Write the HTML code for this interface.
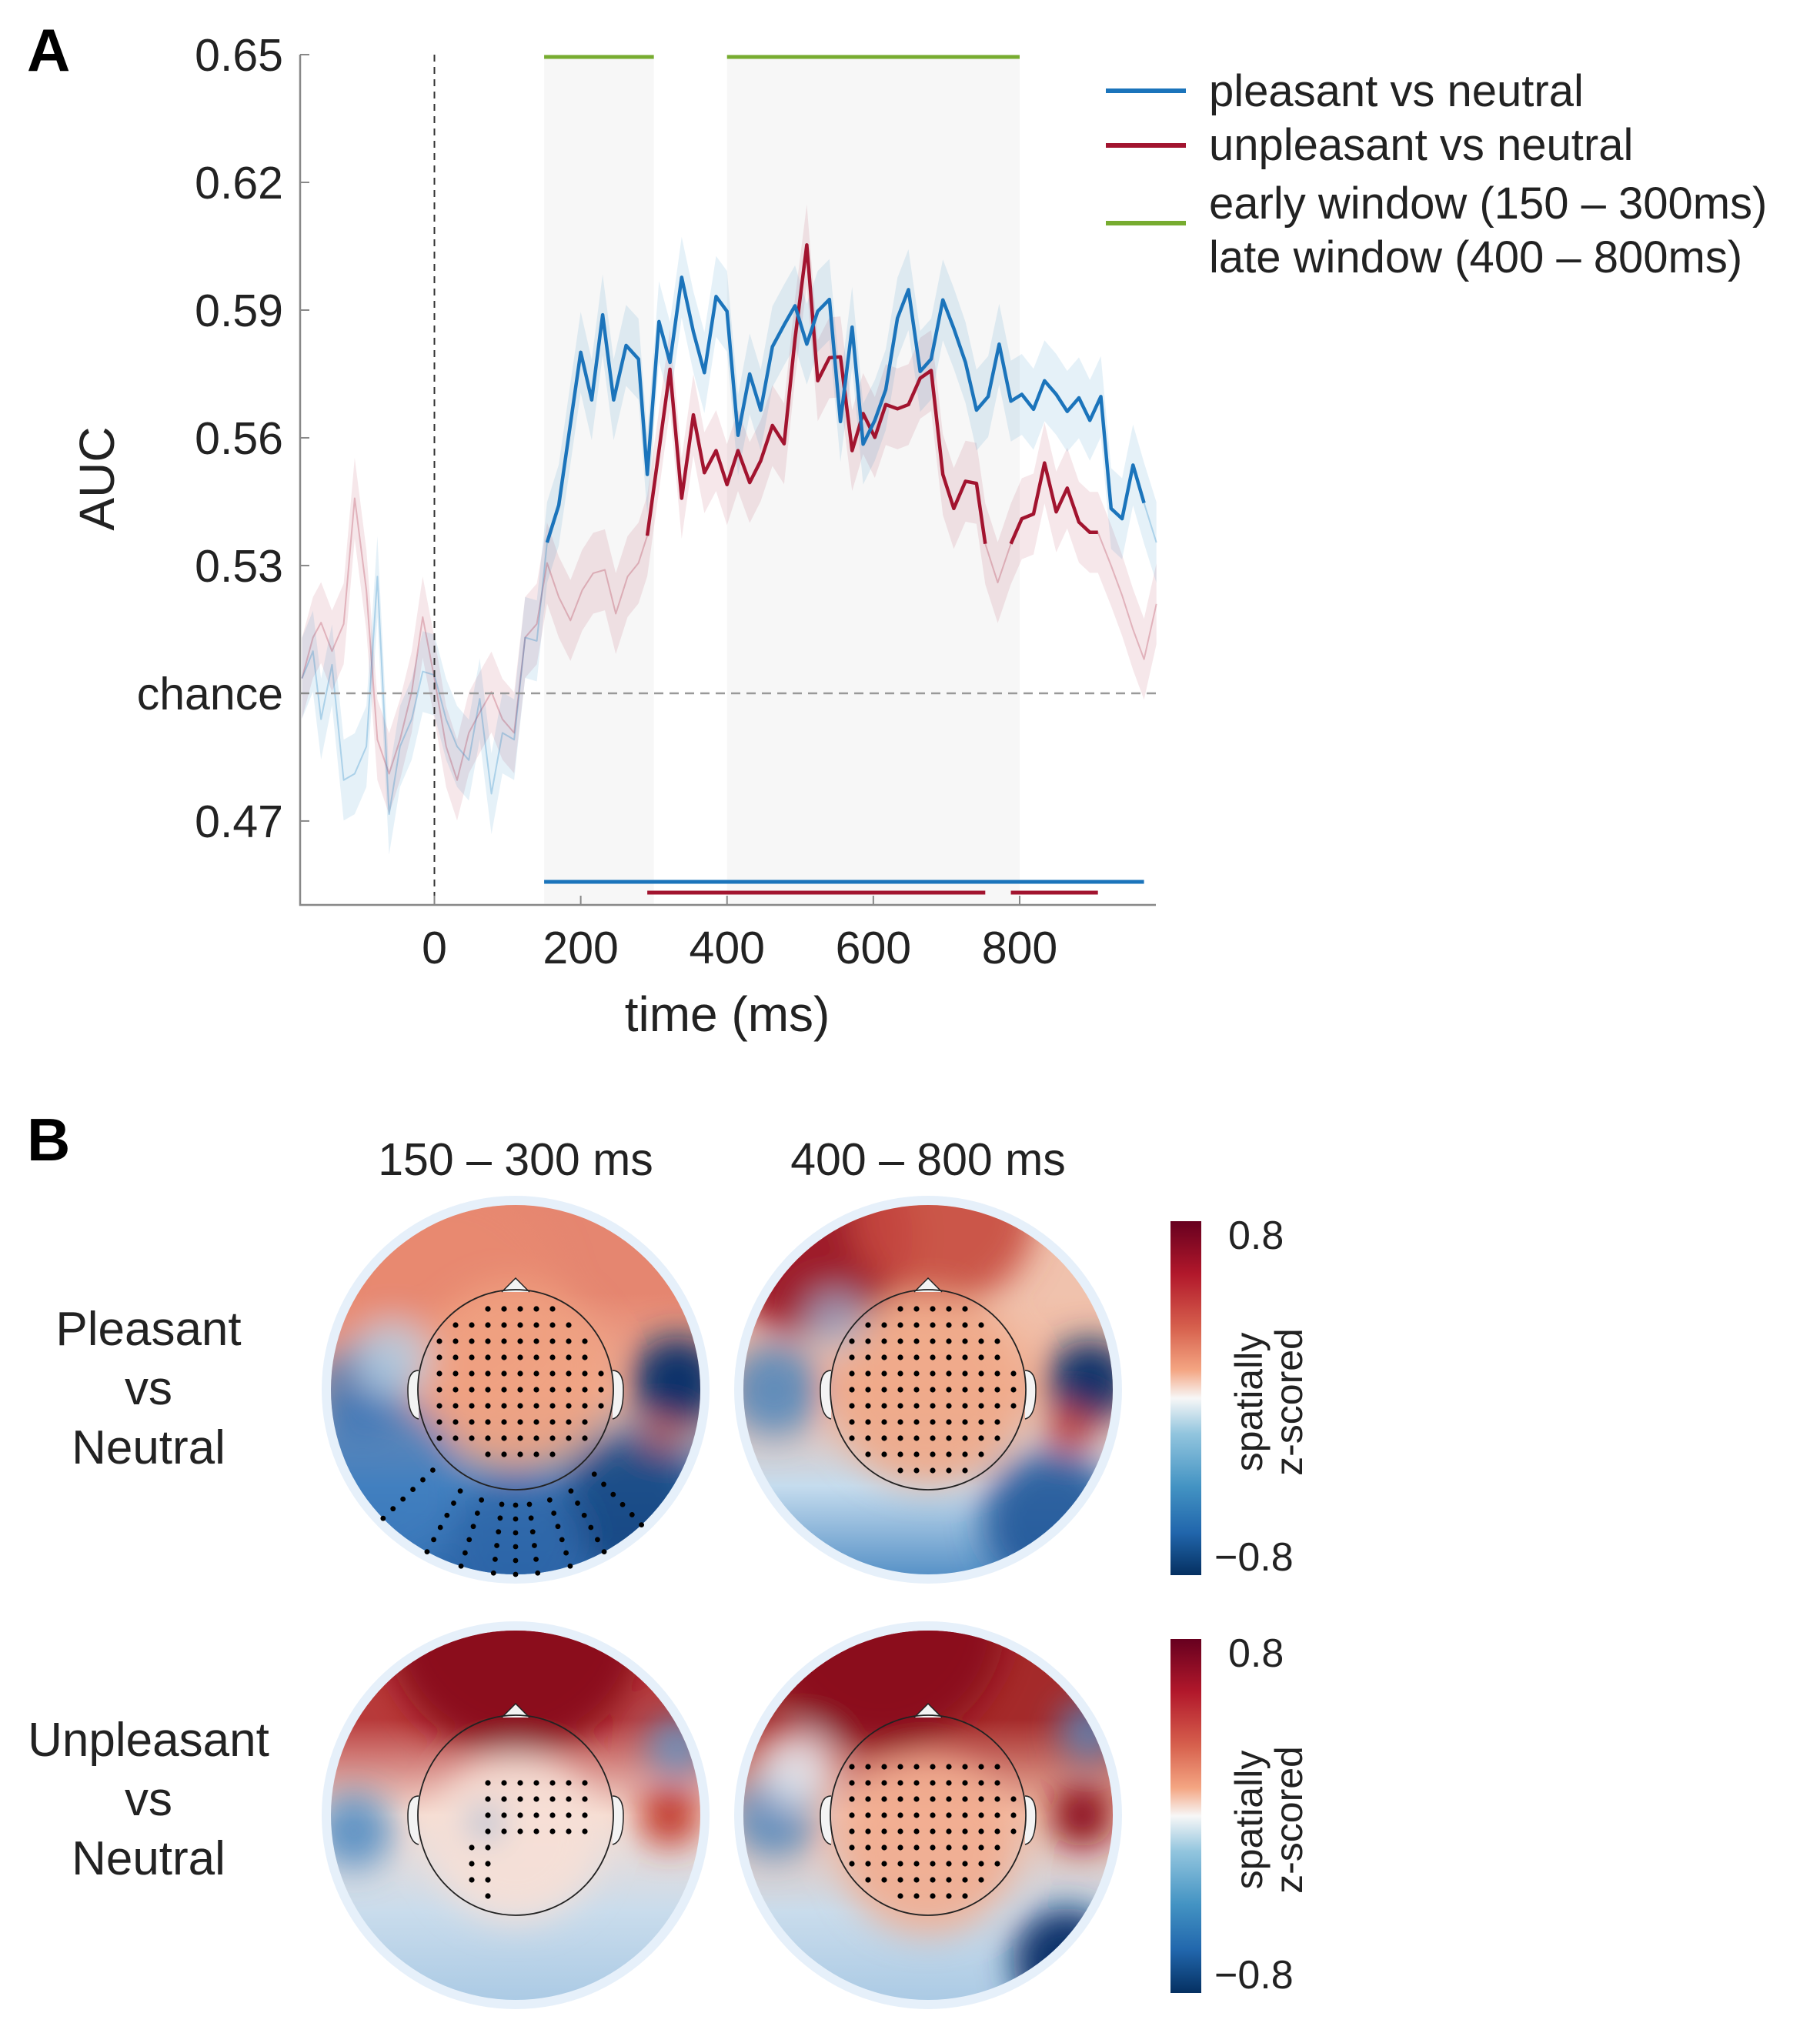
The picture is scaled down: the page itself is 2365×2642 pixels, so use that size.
<!DOCTYPE html>
<html><head><meta charset="utf-8"><style>
html,body{margin:0;padding:0;background:#fff;}
svg{display:block;font-family:"Liberation Sans",Arial,sans-serif;}
</style></head><body>
<svg id="fig" width="2365" height="2642" viewBox="0 0 2365 2642" xmlns="http://www.w3.org/2000/svg">
<defs>
<filter id="blur" x="-50%" y="-50%" width="200%" height="200%"><feGaussianBlur stdDeviation="22"/></filter>
<linearGradient id="cbar" x1="0" y1="0" x2="0" y2="1">
<stop offset="0" stop-color="#67001f"/><stop offset="0.15" stop-color="#b2182b"/><stop offset="0.3" stop-color="#d6604d"/><stop offset="0.42" stop-color="#f4a582"/><stop offset="0.5" stop-color="#f7f7f7"/><stop offset="0.6" stop-color="#92c5de"/><stop offset="0.75" stop-color="#4393c3"/><stop offset="0.88" stop-color="#2166ac"/><stop offset="1" stop-color="#053061"/>
</linearGradient>
</defs>
<g id="panelA"></g>
<g id="panelB"></g>
</svg>
<script>
// ---- chart data ----
const blueT=[-181,-166,-155,-140,-124,-109,-93,-78,-62,-47,-31,-16,0,16,31,47,62,78,93,109,124,140,154,170,200,215,230,245,262,279,291,307,322,338,354,369,385,400,415,431,446,462,478,493,509,524,540,555,571,586,602,617,633,648,664,679,695,710,726,741,757,772,788,803,819,834,850,865,881,896,911,925,940,955,970,987];
const blueV=[0.5035,0.5099,0.4939,0.5067,0.4796,0.4811,0.4875,0.5274,0.4716,0.4875,0.4939,0.5051,0.5043,0.4939,0.4875,0.4843,0.4987,0.4764,0.4907,0.4891,0.5131,0.5123,0.5354,0.5442,0.5801,0.5689,0.5889,0.5689,0.5817,0.5785,0.5514,0.5873,0.5777,0.5977,0.5849,0.5753,0.5932,0.5897,0.5606,0.5750,0.5665,0.5814,0.5865,0.5910,0.5820,0.5897,0.5925,0.5638,0.5860,0.5585,0.5641,0.5713,0.5881,0.5948,0.5756,0.5785,0.5924,0.5857,0.5777,0.5665,0.5697,0.5820,0.5686,0.5702,0.5667,0.5734,0.5702,0.5662,0.5694,0.5641,0.5697,0.5434,0.5410,0.5536,0.5447,0.5354];
const redT=[-181,-166,-155,-140,-124,-109,-93,-78,-62,-47,-31,-16,0,16,31,47,62,78,93,109,124,140,154,170,186,202,217,233,248,264,279,291,307,322,338,354,369,385,400,415,431,446,462,478,493,509,524,540,555,571,586,602,617,633,648,664,679,695,710,726,741,753,770,788,803,819,834,850,865,881,896,907,925,940,955,970,987];
const redV=[0.5035,0.5131,0.5166,0.5099,0.5163,0.5458,0.5242,0.4891,0.4811,0.4891,0.5003,0.5179,0.5035,0.4875,0.4796,0.4907,0.4955,0.5003,0.4939,0.4907,0.5131,0.5163,0.5306,0.5226,0.5171,0.5242,0.5282,0.5290,0.5187,0.5274,0.5306,0.5370,0.5570,0.5761,0.5458,0.5654,0.5518,0.5570,0.5490,0.5570,0.5495,0.5546,0.5629,0.5586,0.5833,0.6053,0.5734,0.5788,0.5790,0.5570,0.5657,0.5601,0.5678,0.5668,0.5678,0.5740,0.5758,0.5514,0.5434,0.5498,0.5493,0.5351,0.5260,0.5351,0.5410,0.5421,0.5541,0.5426,0.5482,0.5402,0.5378,0.5378,0.5300,0.5230,0.5150,0.5080,0.5210];
const blueSig=[[150,970]];
const redSig=[[291,753],[788,907]];
const windows=[[150,300],[400,800]];
const yTickVals=[0.65,0.62,0.59,0.56,0.53,0.50,0.47];
const yTickLabels=["0.65","0.62","0.59","0.56","0.53","chance","0.47"];
const xTickVals=[0,200,400,600,800];
const xTickLabels=["0","200","400","600","800"];
const blueSem=0.0095, redSem=0.0095;

const NS="http://www.w3.org/2000/svg";
function mk(tag,attrs,parent,text){const e=document.createElementNS(NS,tag);for(const k in attrs)e.setAttribute(k,attrs[k]);if(text!==undefined)e.textContent=text;parent.appendChild(e);return e;}
const X=t=>564.5+t*0.9506;
const Y=v=>71+(0.65-v)*5533;
const L=390,R=1502,T=71,B=1176;
const A=document.getElementById('panelA');

let e=mk('text',{x:35,y:92,'font-size':78,'font-weight':'bold',fill:'#000'},A,'A');



windows.forEach((w,i)=>{
 let r=mk('rect',{x:X(w[0]),y:T,width:X(w[1])-X(w[0]),height:B-T,fill:'#f7f7f7'},A);
 
 
 let g=mk('line',{x1:X(w[0]),x2:X(w[1]),y1:74,y2:74,stroke:'#77ac30','stroke-width':5},A);
 
 
});

function band(ts,vs,sem,col,name){
 let d='';ts.forEach((t,i)=>{d+=(i?'L':'M')+X(t).toFixed(1)+','+Y(vs[i]+sem).toFixed(1);});
 for(let i=ts.length-1;i>=0;i--)d+='L'+X(ts[i]).toFixed(1)+','+Y(vs[i]-sem).toFixed(1);
 let p=mk('path',{d:d+'Z',fill:col,'fill-opacity':0.1,stroke:'none'},A);
 
 
}
function line(ts,vs,col,w,op,name,lo,hi){
 let d='',first=true;ts.forEach((t,i)=>{if(t<lo-0.5||t>hi+0.5)return;d+=(first?'M':'L')+X(t).toFixed(1)+','+Y(vs[i]).toFixed(1);first=false;});
 let p=mk('path',{d:d,fill:'none',stroke:col,'stroke-width':w,'stroke-opacity':op,'stroke-linejoin':'round'},A);
 
 
}
band(redT,redV,redSem,'#a2142f','unpleasant-sem-band');
band(blueT,blueV,blueSem,'#0072bd','pleasant-sem-band');
line(redT,redV,'#a2142f',2,0.25,'unpleasant-line-faint',-999,9999);
line(blueT,blueV,'#0072bd',2,0.25,'pleasant-line-faint',-999,9999);
redSig.forEach((s,i)=>line(redT,redV,'#a2142f',4.5,1,'unpleasant-line-sig-'+(i+1),s[0],s[1]));
blueSig.forEach((s,i)=>line(blueT,blueV,'#1b74bb',4.5,1,'pleasant-line-sig-'+(i+1),s[0],s[1]));

blueSig.forEach((s,i)=>{let l=mk('line',{x1:X(s[0]),x2:X(s[1]),y1:1146,y2:1146,stroke:'#1b74bb','stroke-width':5},A);
 
 });
redSig.forEach((s,i)=>{let l=mk('line',{x1:X(s[0]),x2:X(s[1]),y1:1160,y2:1160,stroke:'#a2142f','stroke-width':5},A);
 
 });

e=mk('line',{x1:X(0),x2:X(0),y1:T,y2:B,stroke:'#333','stroke-width':2,'stroke-dasharray':'9,7'},A);


e=mk('line',{x1:L,x2:R,y1:Y(0.5),y2:Y(0.5),stroke:'#999','stroke-width':2.5,'stroke-dasharray':'12,8'},A);



e=mk('path',{d:`M${L},${T}V${B}H${R}`,fill:'none',stroke:'#888','stroke-width':2.5},A);


yTickVals.forEach((v,i)=>{
 mk('line',{x1:L,x2:L+12,y1:Y(v),y2:Y(v),stroke:'#888','stroke-width':2},A);
 let t=mk('text',{x:368,y:Y(v)+21,'text-anchor':'end','font-size':59,fill:'#222'},A,yTickLabels[i]);
 
 
});
xTickVals.forEach((v,i)=>{
 mk('line',{x1:X(v),x2:X(v),y1:B,y2:B-12,stroke:'#888','stroke-width':2},A);
 let t=mk('text',{x:X(v),y:1252,'text-anchor':'middle','font-size':59,fill:'#222'},A,xTickLabels[i]);
 
 
});
e=mk('text',{x:945,y:1340,'text-anchor':'middle','font-size':64,fill:'#222'},A,'time (ms)');


e=mk('text',{x:0,y:0,'text-anchor':'middle','font-size':64,fill:'#222',transform:'translate(148,622) rotate(-90)'},A,'AUC');



const legItems=[['#1b74bb',118],['#a2142f',189],['#77ac30',290]];
legItems.forEach((it,i)=>{let l=mk('line',{x1:1437,x2:1541,y1:it[1],y2:it[1],stroke:it[0],'stroke-width':6},A);
 
 });
[['pleasant vs neutral',138],['unpleasant vs neutral',208],['early window (150 – 300ms)',284],['late window (400 – 800ms)',354]].forEach(it=>{
 let t=mk('text',{x:1571,y:it[1],'font-size':58,fill:'#222'},A,it[0]);
 
 
});

// ---- Panel B ----
const Bp=document.getElementById('panelB');
e=mk('text',{x:35,y:1508,'font-size':78,'font-weight':'bold',fill:'#000'},Bp,'B');


[['150 – 300 ms',670],['400 – 800 ms',1206]].forEach(c=>{let t=mk('text',{x:c[1],y:1527,'text-anchor':'middle','font-size':59,fill:'#222'},Bp,c[0]);
 
 });
[[['Pleasant','vs','Neutral'],1748],[['Unpleasant','vs','Neutral'],2282]].forEach(r=>{
 r[0].forEach((w,j)=>{let t=mk('text',{x:193,y:r[1]+j*77,'text-anchor':'middle','font-size':62,fill:'#222'},Bp,w);
  
  });
});
const maps=[
 {cx:670,cy:1806,top:'#e58670',mid:'#f2b39a',low:'#4f8cc4',bot:'#2a64a8',blobs:[[-90,-120,150,'#e98a72',0.6],[0,-20,120,'#f0a282',0.9],[-200,0,60,'#2c6cb0',0.8],[210,-10,60,'#08306b',1],[190,60,22,'#d6604d',0.9],[-180,120,110,'#3a7bbd',0.7],[150,150,90,'#0f3f7a',0.8],[0,200,90,'#2a64a8',0.8],[-160,-40,50,'#b8d4ea',0.8]],dots:'p1'},
 {cx:1206,cy:1806,top:'#f0c2ad',mid:'#f3b69c',low:'#c5dcee',bot:'#4f8cc4',blobs:[[-150,-200,130,'#9e1a2c',1],[20,-230,120,'#c64a3f',0.9],[0,0,125,'#f0a888',0.9],[210,-10,55,'#08306b',1],[185,50,28,'#c0392b',1],[-200,0,60,'#3f82c0',0.8],[160,170,90,'#1d5598',0.9],[-120,-90,40,'#9cc3e0',0.7]],dots:'p2'},
 {cx:670,cy:2359,top:'#b83a3a',mid:'#f6ddd2',low:'#c9dcec',bot:'#a9c9e4',blobs:[[0,-250,170,'#8b0a1f',1],[200,0,40,'#c0392b',1],[-210,20,50,'#3f82c0',0.8],[210,-90,40,'#5a97cb',0.8],[0,30,110,'#f7e0d6',0.9],[-40,10,20,'#6fa6d2',0.8]],dots:'u1'},
 {cx:1206,cy:2359,top:'#a52a2a',mid:'#f3c0aa',low:'#c9dcec',bot:'#a9c9e4',blobs:[[-60,-250,160,'#8b0a1f',1],[200,0,42,'#8b0a1f',1],[0,40,115,'#f2ac8f',0.9],[-200,0,55,'#3f82c0',0.8],[180,190,70,'#08306b',1],[210,-110,40,'#4f8cc4',0.8],[-170,-60,50,'#e8f0f8',0.8]],dots:'u2'}
];
maps.forEach((m,mi)=>{
 const g=mk('g',{},Bp);
 
 
 const cid='clip'+mi, gid='grad'+mi;
 const defs=mk('defs',{},g);
 const cp=mk('clipPath',{id:cid},defs); mk('circle',{cx:m.cx,cy:m.cy,r:240},cp);
 const lg=mk('linearGradient',{id:gid,x1:0,y1:0,x2:0,y2:1},defs);
 mk('stop',{offset:0,'stop-color':m.top},lg);mk('stop',{offset:0.25,'stop-color':m.top},lg);mk('stop',{offset:0.5,'stop-color':m.mid},lg);mk('stop',{offset:0.75,'stop-color':m.low},lg);mk('stop',{offset:1,'stop-color':m.bot},lg);
 mk('circle',{cx:m.cx,cy:m.cy,r:252,fill:'#e6f0fa'},g);
 const inner=mk('g',{'clip-path':`url(#${cid})`},g);
 mk('rect',{x:m.cx-250,y:m.cy-250,width:500,height:500,fill:`url(#${gid})`},inner);
 const bl=mk('g',{filter:'url(#blur)'},inner);
 m.blobs.forEach(b=>mk('circle',{cx:m.cx+b[0],cy:m.cy+b[1],r:b[2],fill:b[3],'fill-opacity':b[4]},bl));
 mk('path',{d:`M${m.cx-18},${m.cy-127} L${m.cx},${m.cy-145} L${m.cx+18},${m.cy-127}`,fill:'#f3f3f3',stroke:'#222','stroke-width':1.5},g);
 mk('path',{d:`M${m.cx-126},${m.cy-25} q-14,0 -14,25 q0,35 14,38`,fill:'#f3f3f3',stroke:'#222','stroke-width':1.5},g);
 mk('path',{d:`M${m.cx+126},${m.cy-25} q14,0 14,25 q0,35 -14,38`,fill:'#f3f3f3',stroke:'#222','stroke-width':1.5},g);
 mk('ellipse',{cx:m.cx,cy:m.cy,rx:127,ry:130,fill:'none',stroke:'#222','stroke-width':1.8},g);
 const dg=mk('g',{fill:'#000'},g);
 for(let dy=-105;dy<=115;dy+=21){for(let dx=-120;dx<=120;dx+=21){
  const rr=Math.hypot(dx/120,dy/120); if(rr>0.98)continue;
  let ok=false;
  if(m.dots==='p1')ok=dy<70||(Math.abs(dx)<50&&dy<100);
  if(m.dots==='p2')ok=true;
  if(m.dots==='u1')ok=(dx>-40&&dy>-50&&dy<30&&dx<110)||(dx<-30&&dx>-70&&dy>30);
  if(m.dots==='u2')ok=dy>-70;
  if(ok)mk('circle',{cx:m.cx+dx,cy:m.cy+dy,r:3.6},dg);
 }}
 if(m.dots==='p1'){
  const rays=[[-0.5],[-0.3],[-0.12],[0],[0.12],[0.3],[0.5],[0.75],[-0.8]];
  rays.forEach(r=>{for(let k=0;k<6;k++){const rad=150+k*18;mk('circle',{cx:m.cx+Math.sin(r[0])*rad,cy:m.cy+Math.cos(r[0])*rad,r:3.4},dg);}});
 }
});
[[1587,2047],[2130,2590]].forEach((c,i)=>{
 let r=mk('rect',{x:1521,y:c[0],width:40,height:c[1]-c[0],fill:'url(#cbar)'},Bp);
 
 
 let t=mk('text',{x:1596,y:c[0]+36,'font-size':52,fill:'#222'},Bp,'0.8');
 
 
 t=mk('text',{x:1578,y:c[1]-6,'font-size':52,fill:'#222'},Bp,'−0.8');
 
 
 t=mk('text',{x:0,y:0,'text-anchor':'middle','font-size':50,fill:'#222',transform:`translate(1640,${(c[0]+c[1])/2+5}) rotate(-90)`},Bp,'spatially');
 
 
 t=mk('text',{x:0,y:0,'text-anchor':'middle','font-size':50,fill:'#222',transform:`translate(1692,${(c[0]+c[1])/2+5}) rotate(-90)`},Bp,'z-scored');
 
 
});
</script>
</body></html>
